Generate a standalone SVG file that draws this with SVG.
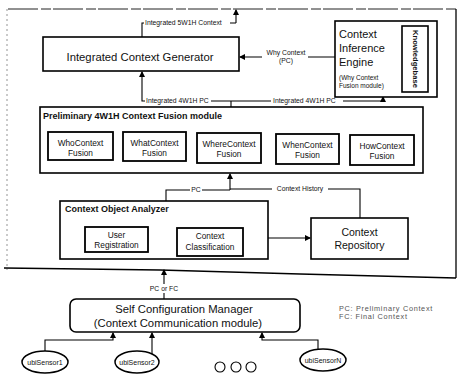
<svg xmlns="http://www.w3.org/2000/svg" width="459" height="391" viewBox="0 0 459 391">
<defs>
<marker id="ah" markerWidth="6" markerHeight="6" refX="5" refY="3" orient="auto" markerUnits="userSpaceOnUse">
<path d="M0,0 L6,3 L0,6 Z" fill="#000"/>
</marker>
<style>
text{font-family:"Liberation Sans",Arial,sans-serif;fill:#111}
.box{fill:#fff;stroke:#000;stroke-width:1.6}
.ibox{fill:#fff;stroke:#000;stroke-width:1.8}
.c{fill:none;stroke:#000;stroke-width:1.1}
.ca{fill:none;stroke:#000;stroke-width:1.1;marker-end:url(#ah)}
.lbl{font-size:6.8px}
.bg{fill:#fff}
.ctr{text-anchor:middle}
.in{font-size:8.3px}
.ttl{font-size:9px;font-weight:bold}
.sen{fill:#fff;stroke:#000;stroke-width:1.5}
.st{font-size:7px}
.leg{font-size:7.3px;letter-spacing:0.7px;fill:#555}
</style>
</defs>
<rect width="459" height="391" fill="#fff"/>
<g id="frame">
<line x1="8" y1="9" x2="456" y2="9" stroke="#222" stroke-width="1" stroke-dasharray="30 3 10 2"/>
<line x1="7" y1="9" x2="7" y2="270" stroke="#888" stroke-width="0.9" stroke-dasharray="2 3"/>
<line x1="456" y1="9" x2="456" y2="278" stroke="#000" stroke-width="1.3"/>
<polyline points="4,268 160,270 300,274 456,278" fill="none" stroke="#000" stroke-width="1.5"/>
</g>
<g id="connectors">
<path class="c" d="M142,37 V23 H236"/>
<path class="ca" d="M236,23 V10"/>
<rect class="bg" x="144" y="18" width="86" height="8"/>
<text class="lbl" x="145" y="25">Integrated 5W1H Context</text>
<path class="ca" d="M335,57 H240"/>
<rect class="bg" x="262" y="49" width="46" height="15"/>
<text class="lbl ctr" x="286" y="55">Why Context</text>
<text class="lbl ctr" x="286" y="63">(PC)</text>
<path class="c" d="M231,107 V101"/>
<path class="ca" d="M231,101 H142 V72"/>
<path class="ca" d="M231,101 H383 V97"/>
<rect class="bg" x="145" y="96" width="66" height="8"/>
<text class="lbl" x="146" y="103">Integrated 4W1H PC</text>
<rect class="bg" x="271" y="96" width="72" height="8"/>
<text class="lbl" x="273" y="103">Integrated 4W1H PC</text>
<path class="c" d="M166,201 V190 H230"/>
<path class="c" d="M360,218 V189 H230"/>
<path class="ca" d="M230,190 V174"/>
<rect class="bg" x="190" y="186" width="12" height="7"/>
<text class="lbl ctr" x="196" y="192">PC</text>
<rect class="bg" x="272" y="185" width="56" height="7"/>
<text class="lbl ctr" x="300" y="191">Context History</text>
<path class="ca" d="M268,238 H310"/>
<path class="ca" d="M164,299 V270"/>
<rect class="bg" x="149" y="284" width="31" height="9"/>
<text class="lbl ctr" x="164" y="291">PC or FC</text>
<path class="ca" d="M45,351 V340 H113 V333"/>
<path class="ca" d="M152,355 V333"/>
<path class="ca" d="M318,350 V340 H262 V333"/>
</g>
<g id="icg">
<rect class="box" x="43" y="37" width="196" height="34"/>
<text class="ctr" x="140" y="61" font-size="11.3">Integrated Context Generator</text>
</g>
<g id="cie">
<rect class="box" x="335" y="21" width="102" height="76"/>
<text x="339" y="38" font-size="11">Context</text>
<text x="339" y="52" font-size="11">Inference</text>
<text x="339" y="66" font-size="11">Engine</text>
<text x="339" y="80" font-size="6.5">(Why Context</text>
<text x="339" y="88" font-size="6.5">Fusion module)</text>
</g>
<g id="kb">
<rect class="box" x="402" y="26" width="26" height="66"/>
<text class="ctr" transform="translate(412.5,59) rotate(90)" font-size="7.6" font-weight="bold">Knowledgebase</text>
</g>
<g id="fusion">
<rect class="box" x="40" y="107" width="383" height="66"/>
<text class="ttl" x="43" y="119">Preliminary 4W1H Context Fusion module</text>
</g>
<g id="who">
<rect class="ibox" x="48" y="132" width="65" height="28"/>
<text class="in ctr" x="80.5" y="146">WhoContext</text>
<text class="in ctr" x="80.5" y="156">Fusion</text>
</g>
<g id="what">
<rect class="ibox" x="123" y="132" width="63" height="29"/>
<text class="in ctr" x="154.5" y="146">WhatContext</text>
<text class="in ctr" x="154.5" y="156">Fusion</text>
</g>
<g id="where">
<rect class="ibox" x="197" y="133" width="64" height="30"/>
<text class="in ctr" x="229" y="147">WhereContext</text>
<text class="in ctr" x="229" y="157">Fusion</text>
</g>
<g id="when">
<rect class="ibox" x="276" y="134" width="63" height="30"/>
<text class="in ctr" x="307.5" y="148">WhenContext</text>
<text class="in ctr" x="307.5" y="158">Fusion</text>
</g>
<g id="how">
<rect class="ibox" x="350" y="135" width="64" height="30"/>
<text class="in ctr" x="382" y="149">HowContext</text>
<text class="in ctr" x="382" y="159">Fusion</text>
</g>
<g id="coa">
<rect class="box" x="60" y="201" width="208" height="58"/>
<text class="ttl" x="65" y="212">Context Object Analyzer</text>
</g>
<g id="ureg">
<rect class="ibox" x="85" y="227" width="63" height="25"/>
<text class="in ctr" x="116.5" y="238">User</text>
<text class="in ctr" x="116.5" y="248">Registration</text>
</g>
<g id="cclass">
<rect class="ibox" x="177" y="228" width="66" height="28"/>
<text class="in ctr" x="210" y="239">Context</text>
<text class="in ctr" x="210" y="250">Classification</text>
</g>
<g id="repo">
<rect class="box" x="311" y="218" width="97" height="41"/>
<text class="ctr" x="359.5" y="236" font-size="10.5">Context</text>
<text class="ctr" x="359.5" y="249" font-size="10.5">Repository</text>
</g>
<g id="scm">
<rect class="box" x="70" y="299" width="230" height="33" rx="6"/>
<text class="ctr" x="184" y="313" font-size="11.3">Self Configuration Manager</text>
<text class="ctr" x="178" y="327" font-size="11.3">(Context Communication module)</text>
</g>
<g id="s1">
<ellipse class="sen" cx="45" cy="362" rx="23" ry="11"/>
<text class="st ctr" x="45" y="364.5">ubiSensor1</text>
</g>
<g id="s2">
<ellipse class="sen" cx="137" cy="362" rx="22" ry="11"/>
<text class="st ctr" x="137" y="364.5">ubiSensor2</text>
</g>
<g id="dots">
<circle cx="220" cy="367" r="5" fill="none" stroke="#000" stroke-width="1.1"/>
<circle cx="236" cy="367" r="5" fill="none" stroke="#000" stroke-width="1.1"/>
<circle cx="251" cy="367" r="5" fill="none" stroke="#000" stroke-width="1.1"/>
</g>
<g id="sN">
<ellipse class="sen" cx="323" cy="360" rx="23" ry="11"/>
<text class="st ctr" x="323" y="362.5">ubiSensorN</text>
</g>
<g id="legend">
<text class="leg" x="339" y="311">PC: Preliminary Context</text>
<text class="leg" x="339" y="319">FC: Final Context</text>
</g>
</svg>
